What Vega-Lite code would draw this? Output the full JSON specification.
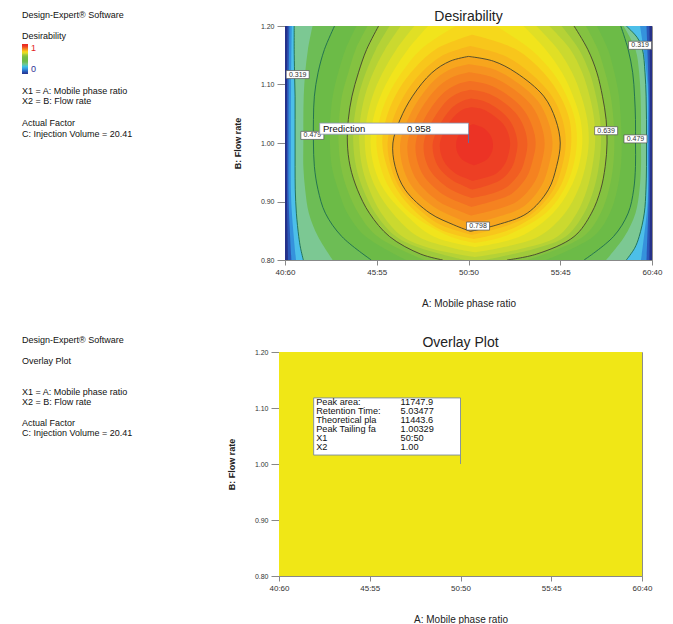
{
  "$schema": "https://vega.github.io/schema/vega-lite/v6.json",
  "padding": {"left": 22, "top": 9, "right": 5, "bottom": 5},
  "datasets": {
    "bands": [
      {"level": 0, "y": [0.8, 1.2], "xl": [40, 40], "xr": [60, 60]},
      {"level": 0.08, "y": [0.8, 0.9, 1.0, 1.1, 1.2], "xl": [40.16, 40.11, 40.1, 40.11, 40.14], "xr": [59.86, 59.89, 59.9, 59.89, 59.86]},
      {"level": 0.16, "y": [0.8, 0.9, 1.0, 1.1, 1.2], "xl": [40.35, 40.2, 40.19, 40.2, 40.24], "xr": [59.7, 59.81, 59.82, 59.81, 59.7]},
      {"level": 0.24, "y": [0.8, 0.9, 1.0, 1.1, 1.2], "xl": [40.6, 40.34, 40.32, 40.33, 40.37], "xr": [59.4, 59.76, 59.77, 59.76, 59.35]},
      {"level": 0.319, "y": [0.8, 0.82, 0.84, 0.88, 0.92, 0.96, 1.0, 1.04, 1.08, 1.12, 1.16, 1.18, 1.2], "xl": [41.0, 40.85, 40.75, 40.62, 40.56, 40.55, 40.55, 40.55, 40.55, 40.52, 40.5, 40.5, 40.5], "xr": [58.6, 59.05, 59.3, 59.58, 59.67, 59.7, 59.7, 59.7, 59.68, 59.62, 59.48, 59.2, 58.6]},
      {"level": 0.4, "y": [0.8, 0.84, 0.88, 0.92, 0.96, 1.0, 1.04, 1.08, 1.12, 1.16, 1.2], "xl": [42.6, 41.8, 41.3, 41.1, 41.0, 41.0, 41.0, 41.02, 41.1, 41.25, 41.5], "xr": [57.5, 58.5, 59.1, 59.32, 59.4, 59.4, 59.4, 59.38, 59.3, 59.1, 58.45]},
      {"level": 0.479, "y": [0.8, 0.84, 0.88, 0.92, 0.96, 1.0, 1.04, 1.08, 1.12, 1.16, 1.2], "xl": [44.7, 43.1, 42.2, 41.8, 41.6, 41.55, 41.55, 41.6, 41.8, 42.15, 42.7], "xr": [56.3, 57.9, 58.7, 59.0, 59.1, 59.1, 59.1, 59.05, 58.95, 58.7, 58.3]},
      {"level": 0.56, "y": [0.8, 0.84, 0.88, 0.92, 0.96, 1.0, 1.04, 1.08, 1.12, 1.16, 1.2], "xl": [46.6, 44.4, 43.4, 42.9, 42.55, 42.45, 42.47, 42.6, 42.9, 43.3, 43.9], "xr": [54.2, 56.8, 57.7, 58.1, 58.3, 58.35, 58.3, 58.2, 57.95, 57.6, 57.0]},
      {"level": 0.6, "y": [0.8, 0.84, 0.88, 0.92, 0.96, 1.0, 1.04, 1.08, 1.12, 1.16, 1.2], "xl": [47.6, 45.05, 44.0, 43.4, 43.05, 42.92, 42.95, 43.1, 43.45, 43.85, 44.5], "xr": [53.2, 56.25, 57.2, 57.65, 57.88, 57.95, 57.9, 57.75, 57.45, 57.05, 56.4]},
      {"level": 0.639, "y": [0.8, 0.81, 0.84, 0.88, 0.92, 0.96, 1.0, 1.04, 1.08, 1.12, 1.16, 1.2], "xl": [48.6, 47.4, 45.7, 44.6, 43.95, 43.55, 43.4, 43.45, 43.65, 44.0, 44.45, 45.1], "xr": [52.1, 53.7, 55.75, 56.7, 57.2, 57.45, 57.55, 57.5, 57.3, 57.0, 56.5, 55.75]},
      {"level": 0.66, "y": [0.8, 0.82, 0.84, 0.88, 0.92, 0.96, 1.0, 1.04, 1.08, 1.12, 1.16, 1.2], "xl": [49.8, 47.4, 46.05, 44.92, 44.27, 43.87, 43.72, 43.77, 44.0, 44.4, 44.95, 45.7], "xr": [50.9, 53.7, 55.3, 56.3, 56.82, 57.1, 57.22, 57.17, 56.95, 56.6, 56.02, 55.07]},
      {"level": 0.68, "y": [0.805, 0.82, 0.84, 0.88, 0.92, 0.96, 1.0, 1.04, 1.08, 1.12, 1.16, 1.2], "xl": [50.35, 47.9, 46.4, 45.25, 44.6, 44.2, 44.05, 44.1, 44.35, 44.8, 45.45, 46.3], "xr": [50.35, 53.0, 54.85, 55.9, 56.45, 56.75, 56.9, 56.85, 56.6, 56.2, 55.55, 54.4]},
      {"level": 0.7, "y": [0.813, 0.82, 0.84, 0.88, 0.92, 0.96, 1.0, 1.04, 1.08, 1.12, 1.16, 1.2], "xl": [50.35, 49.2, 47.25, 45.87, 45.0, 44.52, 44.35, 44.45, 44.77, 45.32, 46.07, 47.05], "xr": [50.35, 51.6, 53.82, 55.25, 55.97, 56.37, 56.55, 56.47, 56.15, 55.65, 54.87, 53.7]},
      {"level": 0.72, "y": [0.822, 0.84, 0.88, 0.92, 0.96, 1.0, 1.04, 1.08, 1.12, 1.16, 1.2], "xl": [50.35, 48.1, 46.5, 45.4, 44.85, 44.66, 44.8, 45.2, 45.85, 46.7, 47.8], "xr": [50.35, 52.8, 54.6, 55.5, 56.0, 56.2, 56.1, 55.7, 55.1, 54.2, 53.0]},
      {"level": 0.74, "y": [0.829, 0.84, 0.88, 0.92, 0.96, 1.0, 1.04, 1.08, 1.12, 1.16, 1.2], "xl": [50.35, 49.0, 46.85, 45.75, 45.2, 44.98, 45.15, 45.6, 46.35, 47.4, 49.3], "xr": [50.35, 51.9, 54.2, 55.2, 55.7, 55.9, 55.8, 55.35, 54.6, 53.4, 51.5]},
      {"level": 0.76, "y": [0.836, 0.85, 0.88, 0.92, 0.96, 1.0, 1.04, 1.08, 1.12, 1.16, 1.185], "xl": [50.3, 48.6, 47.2, 46.1, 45.55, 45.3, 45.5, 46.0, 46.85, 48.2, 50.2], "xr": [50.3, 52.1, 53.8, 54.9, 55.4, 55.6, 55.5, 55.0, 54.1, 52.6, 50.2]},
      {"level": 0.78, "y": [0.843, 0.86, 0.88, 0.92, 0.96, 1.0, 1.04, 1.08, 1.12, 1.15, 1.166], "xl": [50.2, 48.5, 47.55, 46.32, 45.77, 45.59, 45.88, 46.47, 47.42, 48.6, 50.1], "xr": [50.2, 52.2, 53.5, 54.62, 55.1, 55.3, 55.12, 54.55, 53.35, 51.9, 50.1]},
      {"level": 0.798, "y": [0.849, 0.86, 0.88, 0.92, 0.96, 1.0, 1.04, 1.08, 1.12, 1.14, 1.148], "xl": [50.1, 49.2, 47.9, 46.55, 46.0, 45.88, 46.27, 46.95, 48.0, 49.0, 50.0], "xr": [50.1, 51.55, 53.2, 54.35, 54.8, 55.0, 54.75, 54.1, 52.6, 51.35, 50.0]},
      {"level": 0.82, "y": [0.8624, 0.8724, 0.8906, 0.927, 0.9634, 0.9998, 1.0362, 1.0726, 1.109, 1.1272, 1.1345], "xl": [50.12, 49.3, 48.12, 46.89, 46.39, 46.28, 46.64, 47.25, 48.2, 49.11, 50.03], "xr": [50.12, 51.44, 52.96, 53.98, 54.39, 54.58, 54.35, 53.76, 52.39, 51.25, 50.03]},
      {"level": 0.84, "y": [0.876, 0.885, 0.901, 0.934, 0.967, 1.0, 1.032, 1.065, 1.098, 1.114, 1.121], "xl": [50.14, 49.4, 48.33, 47.23, 46.77, 46.68, 46.99, 47.55, 48.41, 49.23, 50.05], "xr": [50.14, 51.33, 52.68, 53.62, 53.99, 54.15, 53.95, 53.42, 52.19, 51.16, 50.05]},
      {"level": 0.86, "y": [0.8907, 0.8986, 0.913, 0.9418, 0.9706, 0.9994, 1.0282, 1.057, 1.0858, 1.1002, 1.106], "xl": [50.16, 49.51, 48.57, 47.6, 47.2, 47.12, 47.4, 47.89, 48.64, 49.36, 50.08], "xr": [50.16, 51.12, 52.34, 53.17, 53.5, 53.66, 53.48, 53.0, 51.96, 51.05, 50.08]},
      {"level": 0.88, "y": [0.906, 0.912, 0.925, 0.95, 0.974, 0.999, 1.024, 1.048, 1.074, 1.086, 1.091], "xl": [50.18, 49.62, 48.81, 47.98, 47.63, 47.56, 47.8, 48.22, 48.87, 49.49, 50.11], "xr": [50.18, 51.08, 52.1, 52.81, 53.09, 53.21, 53.06, 52.66, 51.73, 50.95, 50.11]},
      {"level": 0.9, "y": [0.9205, 0.9262, 0.9366, 0.9574, 0.9782, 0.999, 1.0198, 1.0406, 1.0614, 1.0718, 1.076], "xl": [50.2, 49.77, 49.1, 48.4, 48.11, 48.05, 48.26, 48.61, 49.14, 49.67, 50.14], "xr": [50.2, 50.9, 51.75, 52.35, 52.58, 52.67, 52.54, 52.2, 51.45, 50.82, 50.14]},
      {"level": 0.92, "y": [0.935, 0.94, 0.948, 0.965, 0.982, 0.999, 1.016, 1.032, 1.049, 1.058, 1.061], "xl": [50.22, 49.84, 49.29, 48.73, 48.49, 48.44, 48.61, 48.89, 49.33, 49.75, 50.17], "xr": [50.22, 50.83, 51.52, 52.0, 52.19, 52.27, 52.17, 51.9, 51.27, 50.74, 50.17]},
      {"level": 0.945, "y": [0.962, 0.972, 0.985, 1.0, 1.013, 1.025, 1.032], "xl": [50.3, 49.65, 49.38, 49.33, 49.45, 49.75, 50.25], "xr": [50.3, 51.0, 51.28, 51.33, 51.2, 50.85, 50.25]}
    ],
    "contourLabels": [
      {"x": 40.69, "y": 1.117, "t": "0.319"},
      {"x": 59.35, "y": 1.167, "t": "0.319"},
      {"x": 41.49, "y": 1.013, "t": "0.479"},
      {"x": 59.1, "y": 1.007, "t": "0.479"},
      {"x": 57.5, "y": 1.021, "t": "0.639"},
      {"x": 50.52, "y": 0.858, "t": "0.798"}
    ]
  },
  "vconcat": [
    {
      "hconcat": [
        {
          "width": 150,
          "height": 118.8,
          "view": {"stroke": null},
          "data": {"values": [
            {"line": 0, "text": "Design-Expert® Software"},
            {"line": 7, "text": "X1 = A: Mobile phase ratio"},
            {"line": 8, "text": "X2 = B: Flow rate"},
            {"line": 10, "text": "Actual Factor"},
            {"line": 11, "text": "C: Injection Volume = 20.41"}
          ]},
          "mark": {"type": "text", "align": "left", "baseline": "middle", "fontSize": 9, "color": "#111"},
          "encoding": {
            "x": {"datum": 0, "type": "quantitative", "scale": {"domain": [0, 1]}, "axis": null},
            "y": {"field": "line", "type": "quantitative", "scale": {"domain": [1.02, 12.02], "reverse": true}, "axis": null},
            "text": {"field": "text"}
          }
        },
        {
          "width": 367,
          "height": 234,
          "title": {"text": "Desirability"},
          "layer": [
            {
              "data": {"name": "bands"},
              "transform": [{"flatten": ["y", "xl", "xr"]}],
              "mark": {"type": "area", "orient": "horizontal", "interpolate": "catmull-rom", "clip": true},
              "encoding": {
                "y": {"field": "y", "type": "quantitative", "title": "B: Flow rate", "scale": {"domain": [0.8, 1.2], "nice": false, "zero": false}, "axis": {"values": [0.8, 0.9, 1.0, 1.1, 1.2], "format": ".2f"}},
                "x": {"field": "xl", "type": "quantitative", "title": "A: Mobile phase ratio", "scale": {"domain": [40, 60], "nice": false, "zero": false}, "axis": {"values": [40, 45, 50, 55, 60], "labelExpr": "datum.value + ':' + (100 - datum.value)"}},
                "x2": {"field": "xr"},
                "detail": {"field": "level", "type": "quantitative"},
                "color": {
                  "field": "level", "type": "quantitative",
                  "scale": {
                    "domain": [0, 0.08, 0.16, 0.24, 0.319, 0.4, 0.479, 0.56, 0.6, 0.639, 0.66, 0.68, 0.7, 0.72, 0.74, 0.76, 0.78, 0.798, 0.82, 0.84, 0.86, 0.88, 0.9, 0.92, 0.945, 1],
                    "range": ["#25318a", "#2b57b8", "#3592dc", "#4cbfe9", "#7cc893", "#6dbd55", "#6cbb47", "#76be44", "#84c241", "#9fca3b", "#b5d236", "#cbd92f", "#e0df25", "#f1e41c", "#f6d81b", "#f8c61b", "#f8b61c", "#f7a51d", "#f69320", "#f58220", "#f37022", "#f15e22", "#ef4d23", "#ed3f24", "#ec3325", "#e8261f"]
                  },
                  "legend": {
                    "title": "Desirability",
                    "orient": "none",
                    "legendX": 0,
                    "legendY": 6,
                    "direction": "vertical",
                    "gradientLength": 30,
                    "gradientThickness": 6,
                    "gradientStrokeWidth": 0,
                    "values": [0, 1],
                    "format": ".0f",
                    "titleFontSize": 9,
                    "titleFontWeight": "normal",
                    "titleColor": "#111",
                    "titlePadding": 3,
                    "labelFontSize": 9,
                    "labelOffset": 3,
                    "encode": {"labels": {"update": {"fill": {"signal": "datum.value > 0.5 ? '#e31e24' : '#2e3192'"}}}}
                  }
                }
              }
            },
            {
              "data": {"name": "bands"},
              "transform": [{"flatten": ["y", "xl", "xr"]}, {"filter": "indexof([0.319, 0.479, 0.639, 0.798], datum.level) >= 0"}],
              "mark": {"type": "line", "interpolate": "catmull-rom", "strokeWidth": 0.9, "clip": true},
              "encoding": {
                "x": {"field": "xl", "type": "quantitative", "title": "A: Mobile phase ratio"},
                "y": {"field": "y", "type": "quantitative", "title": "B: Flow rate"},
                "order": {"field": "y", "type": "quantitative"},
                "detail": {"field": "level", "type": "quantitative"},
                "stroke": {"condition": {"test": "datum.level < 0.6", "value": "#1c6b50"}, "value": "#45432e"}
              }
            },
            {
              "data": {"name": "bands"},
              "transform": [{"flatten": ["y", "xl", "xr"]}, {"filter": "indexof([0.319, 0.479, 0.639, 0.798], datum.level) >= 0"}],
              "mark": {"type": "line", "interpolate": "catmull-rom", "strokeWidth": 0.9, "clip": true},
              "encoding": {
                "x": {"field": "xr", "type": "quantitative", "title": "A: Mobile phase ratio"},
                "y": {"field": "y", "type": "quantitative", "title": "B: Flow rate"},
                "order": {"field": "y", "type": "quantitative"},
                "detail": {"field": "level", "type": "quantitative"},
                "stroke": {"condition": {"test": "datum.level < 0.6", "value": "#1c6b50"}, "value": "#45432e"}
              }
            },
            {
              "data": {"name": "contourLabels"},
              "mark": {"type": "point", "shape": "M-1,-0.35H1V0.35H-1Z", "size": 529, "filled": true, "fill": "white", "fillOpacity": 1, "opacity": 1, "stroke": "#555", "strokeWidth": 0.7},
              "encoding": {
                "x": {"field": "x", "type": "quantitative", "title": "A: Mobile phase ratio"},
                "y": {"field": "y", "type": "quantitative", "title": "B: Flow rate"}
              }
            },
            {
              "data": {"name": "contourLabels"},
              "mark": {"type": "text", "fontSize": 7, "color": "#333", "align": "center", "baseline": "middle"},
              "encoding": {
                "x": {"field": "x", "type": "quantitative", "title": "A: Mobile phase ratio"},
                "y": {"field": "y", "type": "quantitative", "title": "B: Flow rate"},
                "text": {"field": "t"}
              }
            },
            {
              "data": {"values": [{"x0": 41.89, "x1": 50.0, "y0": 1.015, "y1": 1.034}]},
              "mark": {"type": "rect", "fill": "white", "stroke": "#8a95b0", "strokeWidth": 0.8},
              "encoding": {
                "x": {"field": "x0", "type": "quantitative", "title": "A: Mobile phase ratio"},
                "x2": {"field": "x1"},
                "y": {"field": "y0", "type": "quantitative", "title": "B: Flow rate"},
                "y2": {"field": "y1"}
              }
            },
            {
              "data": {"values": [{"x": 50.0, "y0": 1.0, "y1": 1.015}]},
              "mark": {"type": "rule", "stroke": "#5a6eb0", "strokeWidth": 0.9},
              "encoding": {
                "x": {"field": "x", "type": "quantitative", "title": "A: Mobile phase ratio"},
                "y": {"field": "y0", "type": "quantitative", "title": "B: Flow rate"},
                "y2": {"field": "y1"}
              }
            },
            {
              "data": {"values": [{"x": 42.07, "y": 1.0245, "t": "Prediction"}, {"x": 46.65, "y": 1.0245, "t": "0.958"}]},
              "mark": {"type": "text", "fontSize": 9.5, "color": "#111", "align": "left", "baseline": "middle"},
              "encoding": {
                "x": {"field": "x", "type": "quantitative", "title": "A: Mobile phase ratio"},
                "y": {"field": "y", "type": "quantitative", "title": "B: Flow rate"},
                "text": {"field": "t"}
              }
            }
          ]
        }
      ],
      "spacing": 60
    },
    {
      "hconcat": [
        {
          "width": 150,
          "height": 92.7,
          "view": {"stroke": null},
          "data": {"values": [
            {"line": 0, "text": "Design-Expert® Software"},
            {"line": 2, "text": "Overlay Plot"},
            {"line": 5, "text": "X1 = A: Mobile phase ratio"},
            {"line": 6, "text": "X2 = B: Flow rate"},
            {"line": 8, "text": "Actual Factor"},
            {"line": 9, "text": "C: Injection Volume = 20.41"}
          ]},
          "mark": {"type": "text", "align": "left", "baseline": "middle", "fontSize": 9, "color": "#111"},
          "encoding": {
            "x": {"datum": 0, "type": "quantitative", "scale": {"domain": [0, 1]}, "axis": null},
            "y": {"field": "line", "type": "quantitative", "scale": {"domain": [1.14, 10.14], "reverse": true}, "axis": null},
            "text": {"field": "text"}
          }
        },
        {
          "width": 363,
          "height": 224,
          "title": {"text": "Overlay Plot"},
          "layer": [
            {
              "data": {"values": [{"x0": 40, "x1": 60, "y0": 0.8, "y1": 1.2}]},
              "mark": {"type": "rect", "fill": "#f0e716"},
              "encoding": {
                "x": {"field": "x0", "type": "quantitative", "title": "A: Mobile phase ratio", "scale": {"domain": [40, 60], "nice": false, "zero": false}, "axis": {"values": [40, 45, 50, 55, 60], "labelExpr": "datum.value + ':' + (100 - datum.value)"}},
                "x2": {"field": "x1"},
                "y": {"field": "y0", "type": "quantitative", "title": "B: Flow rate", "scale": {"domain": [0.8, 1.2], "nice": false, "zero": false}, "axis": {"values": [0.8, 0.9, 1.0, 1.1, 1.2], "format": ".2f"}},
                "y2": {"field": "y1"}
              }
            },
            {
              "data": {"values": [{"x0": 41.91, "x1": 50.0, "y0": 1.016, "y1": 1.118}]},
              "mark": {"type": "rect", "fill": "white", "stroke": "#7a8aa0", "strokeWidth": 0.9},
              "encoding": {
                "x": {"field": "x0", "type": "quantitative", "title": "A: Mobile phase ratio"},
                "x2": {"field": "x1"},
                "y": {"field": "y0", "type": "quantitative", "title": "B: Flow rate"},
                "y2": {"field": "y1"}
              }
            },
            {
              "data": {"values": [{"x": 50.0, "y0": 1.0, "y1": 1.016}]},
              "mark": {"type": "rule", "stroke": "#7a8aa0", "strokeWidth": 0.9},
              "encoding": {
                "x": {"field": "x", "type": "quantitative", "title": "A: Mobile phase ratio"},
                "y": {"field": "y0", "type": "quantitative", "title": "B: Flow rate"},
                "y2": {"field": "y1"}
              }
            },
            {
              "data": {"values": [
                {"x": 42.05, "y": 1.117, "t": "Peak area:|Retention Time:|Theoretical pla|Peak Tailing fa|X1|X2"},
                {"x": 46.7, "y": 1.117, "t": "11747.9|5.03477|11443.6|1.00329|50:50|1.00"}
              ]},
              "mark": {"type": "text", "fontSize": 9.2, "lineHeight": 8.9, "lineBreak": "|", "color": "#111", "align": "left", "baseline": "top"},
              "encoding": {
                "x": {"field": "x", "type": "quantitative", "title": "A: Mobile phase ratio"},
                "y": {"field": "y", "type": "quantitative", "title": "B: Flow rate"},
                "text": {"field": "t"}
              }
            }
          ]
        }
      ],
      "spacing": 54
    }
  ],
  "spacing": 26,
  "resolve": {"scale": {"color": "shared"}, "legend": {"color": "shared"}},
  "config": {
    "font": "Liberation Sans",
    "view": {"stroke": "#8c8c8c"},
    "title": {"font": "Liberation Sans", "fontSize": 14, "fontWeight": "normal", "color": "#222", "offset": -2},
    "axisX": {
      "labelFontSize": 8, "labelColor": "#333", "labelPadding": 3, "labelFlush": false, "labelOverlap": false,
      "tickSize": 5, "tickColor": "#888", "domainColor": "#888",
      "titleFontSize": 10, "titleFontWeight": "normal", "titleColor": "#222", "titlePadding": 22, "grid": false
    },
    "axisY": {
      "labelFontSize": 7, "labelColor": "#333", "labelPadding": 3, "labelFlush": false, "labelOverlap": false,
      "tickSize": 8, "tickColor": "#888", "domainColor": "#888",
      "titleFontSize": 9, "titleFontWeight": "bold", "titleColor": "#222", "titlePadding": 18, "grid": false
    },
    "text": {"font": "Liberation Sans"}
  }
}
